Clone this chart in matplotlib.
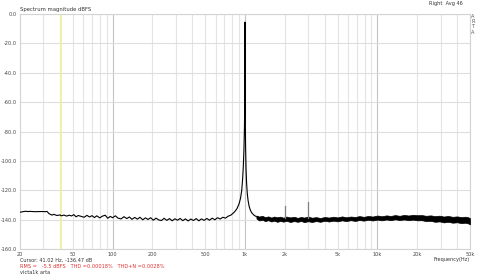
import matplotlib
matplotlib.use('Agg')
import matplotlib.pyplot as plt
from matplotlib.ticker import FixedLocator, NullFormatter

# main trace (Hz, dBFS)
freq = [20, 21, 22, 23, 24, 26, 28, 30, 31, 32, 33, 34, 35, 36, 38, 40, 41, 43, 45, 47,
        49, 51, 53, 55, 58, 61, 64, 67, 70, 73, 76, 80, 84, 88, 92, 96, 100, 105,
        110, 116, 122, 128, 134, 140, 147, 154, 161, 169, 177, 185, 194, 203, 213,
        223, 234, 245, 257, 269, 282, 295, 309, 324, 339, 355, 372, 390, 408, 428,
        448, 469, 491, 515, 539, 565, 592, 620, 650, 680, 712, 745, 780, 810, 840,
        870, 900, 925, 945, 960, 972, 982, 990, 995, 998, 1000, 1002, 1005, 1010,
        1018, 1028, 1040, 1055, 1075, 1100, 1130, 1170, 1220]
level = [-135.0, -134.6, -134.3, -134.5, -134.4, -134.6, -134.5, -134.5, -134.6, -134.4,
         -135.8, -136.5, -136.9, -136.4, -137.2, -136.8, -137.4, -136.9, -137.6, -137.0,
         -137.5, -136.6, -138.1, -137.2, -137.8, -138.4, -137.1, -138.2, -137.3, -138.6,
         -137.4, -138.8, -137.6, -137.0, -139.1, -137.8, -138.7, -137.4, -139.0, -139.5,
         -138.0, -139.3, -138.2, -139.8, -138.5, -139.7, -138.4, -140.1, -138.8, -139.9,
         -138.7, -140.4, -139.0, -140.2, -140.6, -139.1, -140.5, -139.3, -140.8, -139.4,
         -140.4, -139.2, -140.7, -139.5, -140.9, -139.6, -140.6, -139.3, -140.8, -139.5,
         -140.5, -139.2, -140.4, -139.0, -140.1, -138.7, -139.6, -138.4, -139.0, -137.7,
         -137.0, -135.8, -134.4, -132.5, -129.5, -125.5, -120.0, -112.0, -103.0, -92.0,
         -78.0, -62.0, -40.0, -5.5, -42.0, -70.0, -90.0, -105.0, -115.0, -122.0,
         -127.0, -131.0, -133.8, -135.6, -137.0, -138.0]

# noise band above the fundamental: upper / lower edge
band_f = [1220, 1280, 1350, 1420, 1500, 1580, 1660, 1750, 1850, 1950, 2050, 2200,
          2350, 2500, 2650, 2800, 3000, 3200, 3450, 3700, 4000, 4300, 4650, 5000,
          5400, 5800, 6300, 6800, 7300, 7900, 8500, 9200, 10000, 10800, 11700, 12600,
          13600, 14700, 15900, 17200, 18600, 20000, 21600, 23300, 25200, 27200, 29400,
          31700, 34200, 37000, 40000, 43000, 46000, 48500, 50000]
band_hi = [-137.2, -137.9, -137.4, -138.3, -137.8, -138.6, -137.9, -138.4, -138.0,
           -138.7, -137.9, -138.5, -138.1, -138.8, -138.2, -138.6, -137.9, -138.7,
           -138.3, -138.9, -138.2, -138.6, -138.0, -138.5, -137.8, -138.4, -137.9,
           -138.2, -137.6, -138.1, -137.5, -137.9, -137.2, -137.7, -137.1, -137.5,
           -136.9, -137.4, -136.8, -137.2, -136.7, -137.0, -136.9, -137.4, -137.1,
           -137.6, -137.3, -137.9, -137.5, -138.1, -137.8, -138.3, -138.0, -138.4,
           -139.0]
band_lo = [-139.2, -140.6, -140.1, -141.0, -140.4, -141.3, -140.7, -141.5, -140.9,
           -141.4, -140.8, -141.6, -141.0, -141.5, -140.9, -141.7, -141.1, -141.6,
           -141.0, -141.5, -140.8, -141.3, -140.7, -141.2, -140.5, -141.0, -140.4,
           -140.9, -140.3, -140.7, -140.1, -140.6, -140.0, -140.5, -139.9, -140.4,
           -139.8, -140.3, -139.9, -140.4, -140.0, -140.5, -140.4, -141.0, -140.8,
           -141.5, -141.2, -141.9, -141.5, -142.1, -141.8, -142.4, -142.1, -142.6,
           -143.2]

# harmonics
harm_f = [2000, 3000]
harm_db = [-131.0, -128.0]

cursor_f = 41.02
xticks = [20, 50, 100, 200, 500, 1000, 2000, 5000, 10000, 20000, 50000]
xlabels = ['20', '50', '100', '200', '500', '1k', '2k', '5k', '10k', '20k', '50k']
yticks = [0, -20, -40, -60, -80, -100, -120, -140, -160]

fig = plt.figure(figsize=(4.9, 2.75), dpi=100)
ax = fig.add_axes([20 / 490, 1 - 249 / 275, 450 / 490, 235 / 275])

# grid lines at every log step
minor = []
for dec in [10, 100, 1000, 10000]:
    for m in range(1, 10):
        v = m * dec
        if 20 <= v <= 50000:
            minor.append(v)
for v in minor:
    c = '#c4c4c4' if v in (100, 1000, 10000) else '#e4e4e4'
    ax.axvline(v, color=c, lw=0.8, zorder=0)
for y in yticks:
    ax.axhline(y, color='#dedede', lw=0.8, zorder=0)

ax.axvline(cursor_f, color='#f5eea0', lw=1.2, zorder=1)

ax.fill_between(band_f, band_lo, band_hi, color='black', lw=0.5, zorder=3)
ax.plot(freq, level, color='black', lw=0.8, zorder=4)
for f, d in zip(harm_f, harm_db):
    ax.plot([f, f], [-139, d], color='#808080', lw=0.9, zorder=3)

ax.set_xscale('log')
ax.set_xlim(20, 50000)
ax.set_ylim(-160, 0)
ax.xaxis.set_major_locator(FixedLocator(xticks))
ax.set_xticklabels(xlabels)
ax.xaxis.set_minor_formatter(NullFormatter())
ax.xaxis.set_minor_locator(FixedLocator([]))
ax.set_yticks(yticks)
ax.set_yticklabels(['%.1f' % y for y in yticks])
ax.tick_params(length=0, labelsize=3.6, colors='#444444', pad=2)
for s in ax.spines.values():
    s.set_color('#d4d4d4')
    s.set_linewidth(0.8)

fig.text(20 / 490, 1 - 10 / 275, 'Spectrum magnitude dBFS', fontsize=3.8, color='#333333',
         va='center', ha='left')
fig.text(463 / 490, 1 - 4 / 275, 'Right  Avg 46', fontsize=3.6, color='#333333',
         va='center', ha='right')
for i, ch in enumerate('ARTA'):
    fig.text(473 / 490, 1 - (16 + 5.5 * i) / 275, ch, fontsize=3.6, color='#555555',
             va='center', ha='center')
fig.text(20 / 490, 1 - 260 / 275, 'Cursor: 41.02 Hz, -136.47 dB', fontsize=3.6,
         color='#333333', va='center', ha='left')
fig.text(20 / 490, 1 - 266 / 275, 'RMS =   -5.5 dBFS   THD =0.00018%   THD+N =0.0028%',
         fontsize=3.6, color='#e03030', va='center', ha='left')
fig.text(20 / 490, 1 - 272 / 275, 'victa1k arta', fontsize=3.6, color='#333333',
         va='center', ha='left')
fig.text(470 / 490, 1 - 260 / 275, 'Frequency(Hz)', fontsize=3.6, color='#333333',
         va='center', ha='right')

fig.savefig('out.png', dpi=100)
